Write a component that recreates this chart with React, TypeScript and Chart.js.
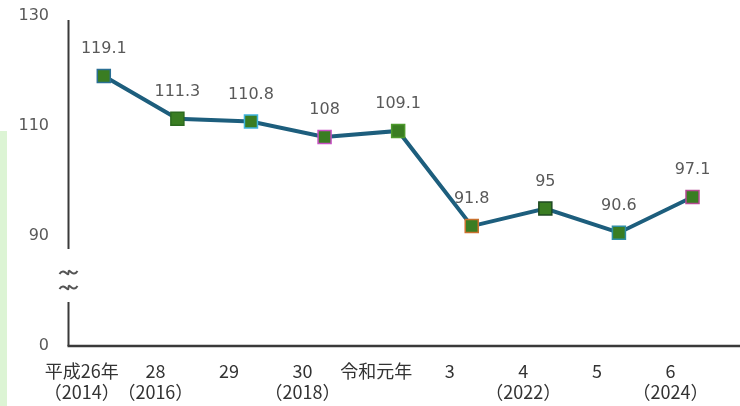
import React, { useEffect, useRef } from "react";
import { Chart, registerables } from "chart.js";

Chart.register(...registerables);

const categories: string[][] = [
  ["平成26年", "（2014）"],
  ["28", "（2016）"],
  ["29", ""],
  ["30", "（2018）"],
  ["令和元年", ""],
  ["3", ""],
  ["4", "（2022）"],
  ["5", ""],
  ["6", "（2024）"],
];
const values: number[] = [119.1, 111.3, 110.8, 108, 109.1, 91.8, 95, 90.6, 97.1];
const valueLabels: string[] = ["119.1", "111.3", "110.8", "108", "109.1", "91.8", "95", "90.6", "97.1"];
const markerBorders: string[] = [
  "#2b6f94",
  "#2c6a1f",
  "#3fb4de",
  "#c84fc4",
  "#4e9a2c",
  "#c9712e",
  "#1f4a22",
  "#2f8ea3",
  "#b54a92",
];
const yTickLabelFor70 = "0";

export default function App() {
  const ref = useRef<HTMLCanvasElement | null>(null);

  useEffect(() => {
    document.body.style.margin = "0";
    const canvas = ref.current;
    if (!canvas) return;

    const decor = {
      id: "decor",
      beforeDraw(chart: any) {
        const ctx = chart.ctx;
        ctx.save();
        ctx.fillStyle = "#ffffff";
        ctx.fillRect(0, 0, chart.width, chart.height);
        ctx.fillStyle = "#dcf4d4";
        ctx.fillRect(0, 131, 7, chart.height - 131);
        ctx.restore();
      },
      beforeDatasetsDraw(chart: any) {
        const ctx = chart.ctx;
        const y = chart.scales.y;
        const area = chart.chartArea;
        const ax = area.left + 1.5;
        const bottom = y.getPixelForValue(70);
        const gapTop = y.getPixelForValue(90) + 13;
        const gapBottom = y.getPixelForValue(78);
        ctx.save();
        ctx.strokeStyle = "#3a3a3a";
        ctx.lineWidth = 2;
        ctx.beginPath();
        ctx.moveTo(ax, y.getPixelForValue(130) + 4);
        ctx.lineTo(ax, gapTop);
        ctx.moveTo(ax, gapBottom);
        ctx.lineTo(ax, bottom);
        ctx.stroke();
        ctx.lineWidth = 2.5;
        ctx.beginPath();
        ctx.moveTo(ax - 1, bottom);
        ctx.lineTo(chart.width, bottom);
        ctx.stroke();
        // break marks
        ctx.strokeStyle = "#555555";
        ctx.lineWidth = 2;
        const mid = (gapTop + gapBottom) / 2;
        [mid - 3, mid + 12].forEach((cy) => {
          ctx.beginPath();
          const x0 = ax - 9;
          ctx.moveTo(x0, cy + 1.5);
          ctx.bezierCurveTo(x0 + 4.5, cy - 6, x0 + 9, cy + 6, x0 + 9, cy);
          ctx.bezierCurveTo(x0 + 9, cy - 6, x0 + 13.5, cy + 6, x0 + 18, cy - 1.5);
          ctx.stroke();
        });
        ctx.restore();
      },
      afterDatasetsDraw(chart: any) {
        const ctx = chart.ctx;
        const meta = chart.getDatasetMeta(0);
        ctx.save();
        ctx.fillStyle = "#595959";
        ctx.font = "16px 'DejaVu Sans', sans-serif";
        ctx.textAlign = "center";
        ctx.textBaseline = "middle";
        meta.data.forEach((pt: any, i: number) => {
          ctx.fillText(valueLabels[i], pt.x, pt.y - 27);
        });
        ctx.restore();
      },
    };

    const chart = new Chart(canvas, {
      type: "line",
      data: {
        labels: categories,
        datasets: [
          {
            data: values,
            borderColor: "#1d5e7d",
            borderWidth: 4,
            tension: 0,
            pointStyle: "rect",
            pointRadius: 9.2,
            pointHoverRadius: 9.2,
            pointBackgroundColor: "#3a7d22",
            pointBorderColor: markerBorders,
            pointBorderWidth: 1.5,
          },
        ],
      },
      options: {
        animation: false,
        responsive: false,
        layout: { padding: { top: 16, right: 7, left: 0, bottom: 0 } },
        plugins: { legend: { display: false }, tooltip: { enabled: false } },
        scales: {
          x: {
            type: "category",
            offset: true,
            grid: { display: false, drawTicks: false },
            border: { display: false },
            afterFit: (s: any) => {
              s.height = 60;
              s.paddingLeft = 0;
              s.paddingRight = 0;
            },
            ticks: {
              color: "#333333",
              padding: 15,
              labelOffset: -22,
              maxRotation: 0,
              autoSkip: false,
              font: { family: "'Noto Sans CJK JP', sans-serif", size: 18, lineHeight: 1.17 },
            },
          },
          y: {
            type: "linear",
            min: 70,
            max: 130,
            grid: { display: false, drawTicks: true, tickLength: 13 },
            border: { display: false },
            afterFit: (s: any) => {
              s.width = 67;
            },
            ticks: {
              stepSize: 20,
              padding: 5,
              color: "#595959",
              font: { family: "'DejaVu Sans', sans-serif", size: 16 },
              callback: (v: any) => (Number(v) === 70 ? yTickLabelFor70 : String(v)),
            },
          },
        },
      },
      plugins: [decor],
    });

    return () => chart.destroy();
  }, []);

  return (
    <div style={{ width: 740, height: 406 }}>
      <canvas ref={ref} width={740} height={406} style={{ display: "block" }} />
    </div>
  );
}
